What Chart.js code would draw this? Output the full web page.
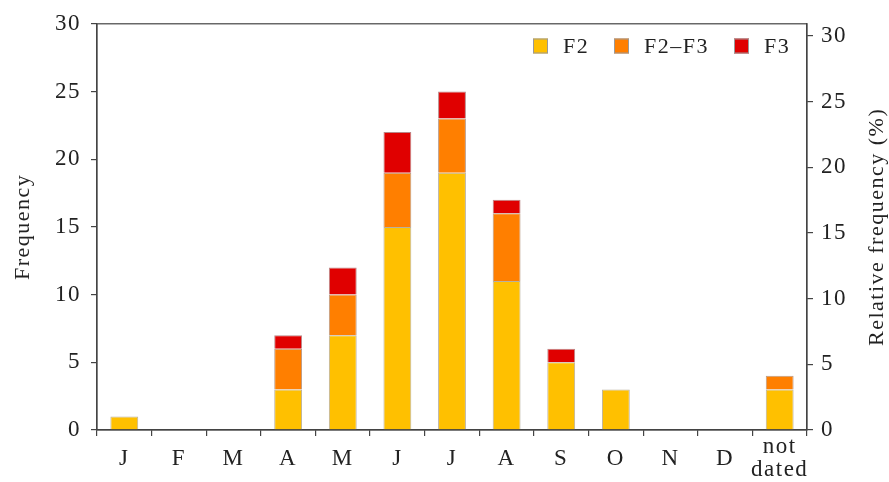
<!DOCTYPE html>
<html>
<head>
<meta charset="utf-8">
<script src="https://cdn.jsdelivr.net/npm/chart.js@4/dist/chart.umd.min.js"></script>
<style>
  html, body { margin: 0; padding: 0; background: #fff; }
  #wrap { width: 889px; height: 482px; }
</style>
</head>
<body>
<div id="wrap"><canvas id="myChart"></canvas></div>
<script>
const mois = ['J', 'F', 'M', 'A', 'M', 'J', 'J', 'A', 'S', 'O', 'N', 'D', ['not', 'dated']]
const valeursF2 = [1, 0, 0, 3, 7, 15, 19, 11, 5, 3, 0, 0, 3]
const valeursF2F3 = [0, 0, 0, 3, 3, 4, 4, 5, 0, 0, 0, 0, 1]
const valeursF3 = [0, 0, 0, 1, 2, 3, 2, 1, 1, 0, 0, 0, 0]
const ticksGauche = [0, 5, 10, 15, 20, 25, 30]
const ticksDroite = [0, 5, 10, 15, 20, 25, 30]

const total = [...valeursF2, ...valeursF2F3, ...valeursF3].reduce((a, b) => a + b, 0)
const maxGauche = 30
const maxDroite = maxGauche * 100 / total

const police = '"Liberation Serif", "DejaVu Serif", serif'
const taille = 22
const noir = '#222'

// espacement des lettres (le texte d'origine est plus large)
const espacement = {
    id: 'espacement',
    beforeDraw(chart) { chart.ctx.letterSpacing = '1.5px' }
}

// cadre + titre de droite + légende dans le graphique
const cadre = {
    id: 'cadre',
    afterDraw(chart) {
        const { ctx, chartArea: a } = chart
        ctx.save()
        ctx.strokeStyle = '#444'
        ctx.lineWidth = 1.2
        ctx.strokeRect(a.left, a.top, a.right - a.left, a.bottom - a.top)

        ctx.fillStyle = noir
        ctx.font = taille + 'px ' + police
        ctx.translate(877, (a.top + a.bottom) / 2)
        ctx.rotate(-Math.PI / 2)
        ctx.textAlign = 'center'
        ctx.textBaseline = 'middle'
        ctx.fillText('Relative frequency (%)', 0, 0)
        ctx.restore()

        // légende
        ctx.save()
        ctx.font = taille + 'px ' + police
        ctx.textBaseline = 'middle'
        const pos = [533, 614, 734]
        chart.data.datasets.forEach((ds, i) => {
            const x = pos[i], y = 46
            ctx.fillStyle = ds.backgroundColor
            ctx.fillRect(x, y - 7.5, 15, 15)
            ctx.strokeStyle = '#999'
            ctx.lineWidth = 1
            ctx.strokeRect(x + 0.5, y - 7, 14, 14)
            ctx.fillStyle = noir
            ctx.fillText(ds.label, x + 30, y + 1)
        })
        ctx.restore()
    }
}

const data = {
    labels: mois,
    datasets: [{
        label: 'F2',
        data: valeursF2,
        backgroundColor: '#FFC000',
        borderColor: '#b8b0a0',
        borderWidth: 1
    }, {
        label: 'F2–F3',
        data: valeursF2F3,
        backgroundColor: '#FF7F00',
        borderColor: '#b89a88',
        borderWidth: 1
    }, {
        label: 'F3',
        data: valeursF3,
        backgroundColor: '#E00000',
        borderColor: '#b88888',
        borderWidth: 1
    }]
}

const config = {
    type: 'bar',
    data: data,
    plugins: [espacement, cadre],
    options: {
        responsive: true,
        maintainAspectRatio: false,
        animation: false,
        layout: { padding: { top: 22, left: 0, right: 0, bottom: 0 } },
        datasets: { bar: { categoryPercentage: 1, barPercentage: 0.51 } },
        plugins: { legend: { display: false }, tooltip: { enabled: false } },
        scales: {
            x: {
                stacked: true,
                afterFit: (s) => { s.height = 52 },
                grid: { display: true, drawOnChartArea: false, drawTicks: true, tickLength: 6, color: '#444', lineWidth: 1.2 },
                border: { display: true, color: '#444', width: 1.2 },
                ticks: { color: noir, font: { family: police, size: taille + 1, lineHeight: 1 }, padding: 11, crossAlign: 'center', maxRotation: 0, autoSkip: false }
            },
            y: {
                stacked: true,
                position: 'left',
                min: 0,
                max: maxGauche,
                afterBuildTicks: (s) => { s.ticks = ticksGauche.map((v) => ({ value: v })) },
                afterFit: (s) => { s.width = 97 },
                grid: { drawOnChartArea: false, drawTicks: true, tickLength: 6, color: '#444', lineWidth: 1.2 },
                border: { display: true, color: '#444', width: 1.2 },
                ticks: { color: noir, font: { family: police, size: taille + 1 }, padding: 10 },
                title: { display: true, text: 'Frequency', color: noir, font: { family: police, size: taille }, padding: { top: 10, bottom: 0 } }
            },
            y2: {
                position: 'right',
                min: 0,
                max: maxDroite,
                afterBuildTicks: (s) => { s.ticks = ticksDroite.map((v) => ({ value: v })) },
                afterFit: (s) => { s.width = 82 },
                grid: { drawOnChartArea: false, drawTicks: true, tickLength: 6, color: '#444', lineWidth: 1.2 },
                border: { display: true, color: '#444', width: 1.2 },
                ticks: { color: noir, font: { family: police, size: taille + 1 }, padding: 8 }
            }
        }
    }
}

const ctx = document.getElementById('myChart')
new Chart(ctx, config)
</script>
</body>
</html>
